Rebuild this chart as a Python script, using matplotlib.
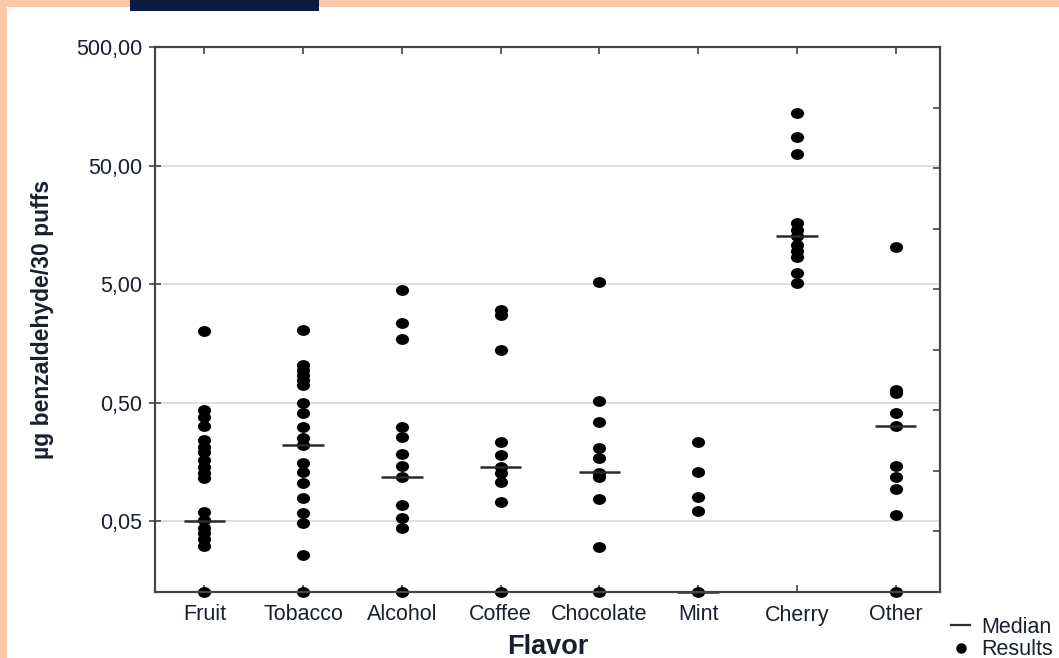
import matplotlib.pyplot as plt
import matplotlib.ticker as mticker
from matplotlib.lines import Line2D
from matplotlib.patches import Rectangle
from matplotlib.path import Path
from matplotlib.transforms import Affine2D

plt.rcParams['font.family'] = ['Liberation Sans', 'DejaVu Sans']

# values (µg / 30 puffs); non-detects sit on the axis floor
LOD = 0.0126
flavors = ['Fruit', 'Tobacco', 'Alcohol', 'Coffee', 'Chocolate', 'Mint', 'Cherry', 'Other']

fruit = [2.0, 0.43, 0.38, 0.32, 0.24, 0.21, 0.19, 0.164, 0.143, 0.127, 0.115,
         0.060, 0.051, 0.044, 0.040, 0.035, 0.031, LOD]
tobacco = [2.05, 1.03, 0.94, 0.85, 0.77, 0.70, 0.50, 0.41, 0.31, 0.25, 0.22,
           0.154, 0.13, 0.105, 0.078, 0.058, 0.048, 0.026, LOD]
alcohol = [4.45, 2.34, 1.72, 0.31, 0.256, 0.184, 0.146, 0.117, 0.068, 0.053, 0.044, LOD]
coffee = [3.02, 2.74, 1.39, 0.232, 0.18, 0.143, 0.127, 0.107, 0.072, LOD]
chocolate = [5.2, 0.515, 0.34, 0.206, 0.17, 0.127, 0.117, 0.077, 0.030, LOD]
mint = [0.232, 0.13, 0.080, 0.061, LOD]
cherry = [140, 86.5, 62.5, 16.3, 14.3, 12.8, 10.7, 9.5, 8.45, 6.2, 5.15]
other = [10.3, 0.64, 0.60, 0.41, 0.32, 0.146, 0.117, 0.093, 0.056, LOD]
results = [fruit, tobacco, alcohol, coffee, chocolate, mint, cherry, other]

medians = [0.05, 0.22, 0.117, 0.143, 0.13, LOD, 12.8, 0.32]

y_ticks = [0.05, 0.5, 5, 50, 500]

# the dots in the original are a little wider than tall
dot = Affine2D().scale(1.0, 0.82).transform_path(Path.unit_circle())

fig = plt.figure(figsize=(10.59, 6.58), dpi=100)
fig.patch.set_facecolor('#f7c9aa')
# white page area and the navy bar at the top
fig.patches.append(Rectangle((7 / 1059, 0), 1, 651 / 658, transform=fig.transFigure,
                             facecolor='white', edgecolor='none', zorder=-5))
fig.patches.append(Rectangle((130 / 1059, 1 - 11 / 658), 189 / 1059, 11 / 658,
                             transform=fig.transFigure, facecolor='#0b1a40',
                             edgecolor='none', zorder=-4))

ax = fig.add_axes([155 / 1059, 1 - 592 / 658, 785 / 1059, 545 / 658])
ax.set_facecolor('white')

txt_col = '#1a1f2e'

for i, vals in enumerate(results):
    ax.plot([i] * len(vals), vals, ls='none', marker=dot, color='black', ms=9.5,
            mew=0, clip_on=False, zorder=3)
    ax.plot([i - 0.21, i + 0.21], [medians[i], medians[i]], color='#2a2a2a',
            lw=1.8, solid_capstyle='butt', clip_on=False, zorder=4)

ax.set_yscale('log')
ax.set_ylim(LOD, 500)
ax.set_xlim(-0.5, 7.45)
ax.set_yticks(y_ticks)
ax.yaxis.set_minor_locator(mticker.NullLocator())
ax.yaxis.set_major_formatter(mticker.FuncFormatter(lambda v, p: f'{v:.2f}'.replace('.', ',')))
ax.set_xticks(range(len(flavors)))
ax.set_xticklabels(flavors)

for y in y_ticks[:-1]:
    ax.axhline(y, color='#dcdcdc', lw=1.3, zorder=1)

for s in ax.spines.values():
    s.set_color('#444444')
    s.set_linewidth(1.5)

ax.tick_params(axis='y', direction='inout', length=8, width=1.2, color='#444444',
               pad=5, labelsize=15.5, labelcolor=txt_col)
ax.tick_params(axis='x', direction='in', length=5, width=1.2, color='#444444',
               top=True, pad=9, labelsize=15.5, labelcolor=txt_col)

# right spine ticks are evenly spaced, not tied to the log scale
axr = ax.twinx()
axr.set_ylim(0, 9)
axr.set_yticks(range(10))
axr.set_yticklabels([])
axr.tick_params(axis='y', direction='in', length=5, width=1.2, color='#444444')
for s in axr.spines.values():
    s.set_color('#444444')
    s.set_linewidth(1.5)

ax.set_xlabel('Flavor', fontsize=19.5, fontweight='bold', color=txt_col, labelpad=6)
ax.set_ylabel('µg benzaldehyde/30 puffs', fontsize=16.5, fontweight='bold',
              color=txt_col, labelpad=16)

handles = [Line2D([], [], color='#2a2a2a', lw=1.6),
           Line2D([], [], marker='o', ls='none', color='black', ms=7.5, mew=0)]
fig.legend(handles, ['Median', 'Results'], loc='upper left',
           bbox_to_anchor=(951 / 1059, 1 - 617 / 658), frameon=False,
           handlelength=0.9, handletextpad=0.5, labelspacing=0.05,
           borderpad=0, borderaxespad=0, fontsize=15.5, labelcolor=txt_col)

fig.savefig('out.png', dpi=100, facecolor=fig.get_facecolor())
